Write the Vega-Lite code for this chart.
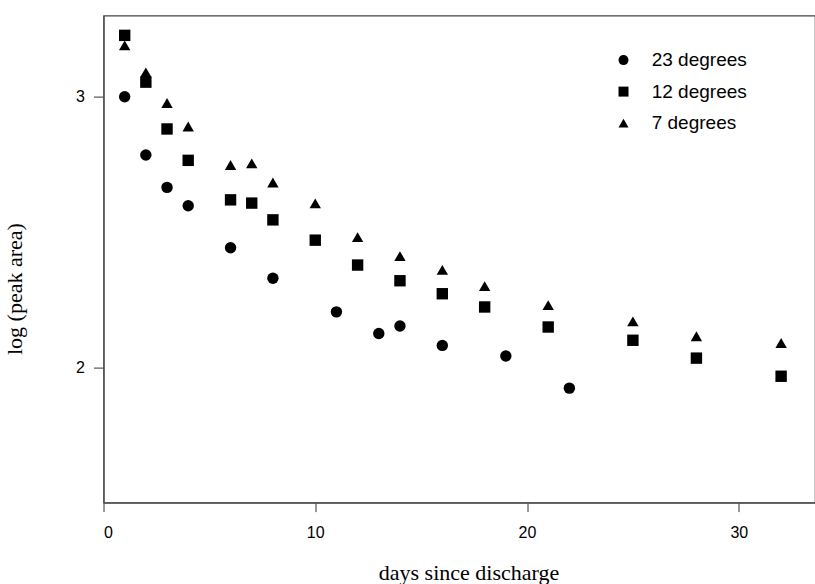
{
  "$schema": "https://vega.github.io/schema/vega-lite/v6.json",
  "width": 711.5,
  "height": 487,
  "autosize": {"type": "none"},
  "padding": {"left": 103.5, "top": 15.6, "right": 0, "bottom": 81.4},
  "background": "white",
  "config": {
    "view": {"stroke": "#444", "strokeWidth": 1.2},
    "axis": {
      "grid": false,
      "domainColor": "#555",
      "domainWidth": 1.5,
      "tickColor": "#333",
      "tickWidth": 1,
      "labelFont": "Liberation Sans",
      "labelFontSize": 16,
      "labelColor": "black",
      "titleFont": "Liberation Serif",
      "titleFontSize": 22,
      "titleFontWeight": "normal",
      "titleColor": "black"
    },
    "legend": {
      "labelFont": "Liberation Sans",
      "labelFontSize": 19,
      "labelColor": "black"
    }
  },
  "data": {
    "values": [
      {"series": "23 degrees", "day": 1, "logArea": 3.0},
      {"series": "23 degrees", "day": 2, "logArea": 2.785},
      {"series": "23 degrees", "day": 3, "logArea": 2.665},
      {"series": "23 degrees", "day": 4, "logArea": 2.597},
      {"series": "23 degrees", "day": 6, "logArea": 2.442},
      {"series": "23 degrees", "day": 8, "logArea": 2.329},
      {"series": "23 degrees", "day": 11, "logArea": 2.205},
      {"series": "23 degrees", "day": 13, "logArea": 2.125},
      {"series": "23 degrees", "day": 14, "logArea": 2.153},
      {"series": "23 degrees", "day": 16, "logArea": 2.081},
      {"series": "23 degrees", "day": 19, "logArea": 2.042},
      {"series": "23 degrees", "day": 22, "logArea": 1.923},
      {"series": "12 degrees", "day": 1, "logArea": 3.227},
      {"series": "12 degrees", "day": 2, "logArea": 3.054},
      {"series": "12 degrees", "day": 3, "logArea": 2.881},
      {"series": "12 degrees", "day": 4, "logArea": 2.765},
      {"series": "12 degrees", "day": 6, "logArea": 2.619},
      {"series": "12 degrees", "day": 7, "logArea": 2.607},
      {"series": "12 degrees", "day": 8, "logArea": 2.545},
      {"series": "12 degrees", "day": 10, "logArea": 2.47},
      {"series": "12 degrees", "day": 12, "logArea": 2.378},
      {"series": "12 degrees", "day": 14, "logArea": 2.32},
      {"series": "12 degrees", "day": 16, "logArea": 2.272},
      {"series": "12 degrees", "day": 18, "logArea": 2.223},
      {"series": "12 degrees", "day": 21, "logArea": 2.149},
      {"series": "12 degrees", "day": 25, "logArea": 2.1},
      {"series": "12 degrees", "day": 28, "logArea": 2.034},
      {"series": "12 degrees", "day": 32, "logArea": 1.967},
      {"series": "7 degrees", "day": 1, "logArea": 3.19},
      {"series": "7 degrees", "day": 2, "logArea": 3.09},
      {"series": "7 degrees", "day": 3, "logArea": 2.977},
      {"series": "7 degrees", "day": 4, "logArea": 2.89},
      {"series": "7 degrees", "day": 6, "logArea": 2.748},
      {"series": "7 degrees", "day": 7, "logArea": 2.754},
      {"series": "7 degrees", "day": 8, "logArea": 2.683},
      {"series": "7 degrees", "day": 10, "logArea": 2.606},
      {"series": "7 degrees", "day": 12, "logArea": 2.481},
      {"series": "7 degrees", "day": 14, "logArea": 2.411},
      {"series": "7 degrees", "day": 16, "logArea": 2.36},
      {"series": "7 degrees", "day": 18, "logArea": 2.3},
      {"series": "7 degrees", "day": 21, "logArea": 2.23},
      {"series": "7 degrees", "day": 25, "logArea": 2.17},
      {"series": "7 degrees", "day": 28, "logArea": 2.115},
      {"series": "7 degrees", "day": 32, "logArea": 2.09}
    ]
  },
  "mark": {"type": "point", "filled": true, "color": "black", "opacity": 1, "size": 130},
  "encoding": {
    "x": {
      "field": "day",
      "type": "quantitative",
      "scale": {"domain": [0, 33.6], "nice": false, "zero": false},
      "axis": {
        "values": [0, 10, 20, 30],
        "title": "days since discharge",
        "tickSize": 9,
        "labelPadding": 13,
        "titleX": 365,
        "titleY": 77,
        "titleBaseline": "alphabetic"
      }
    },
    "y": {
      "field": "logArea",
      "type": "quantitative",
      "scale": {"domain": [1.5, 3.3], "nice": false, "zero": false},
      "axis": {
        "values": [2, 3],
        "title": "log (peak area)",
        "tickSize": 10,
        "labelPadding": 9,
        "titleX": -82.5,
        "titleY": 273,
        "titleBaseline": "alphabetic",
        "titleAngle": 270
      }
    },
    "shape": {
      "field": "series",
      "type": "nominal",
      "scale": {
        "domain": ["23 degrees", "12 degrees", "7 degrees"],
        "range": ["circle", "square", "triangle-up"]
      },
      "legend": {
        "title": null,
        "orient": "none",
        "legendX": 510.5,
        "legendY": 35,
        "padding": 0,
        "symbolSize": 100,
        "symbolFillColor": "black",
        "symbolStrokeColor": "black",
        "labelOffset": 18.7,
        "rowPadding": 11.5
      }
    }
  }
}
